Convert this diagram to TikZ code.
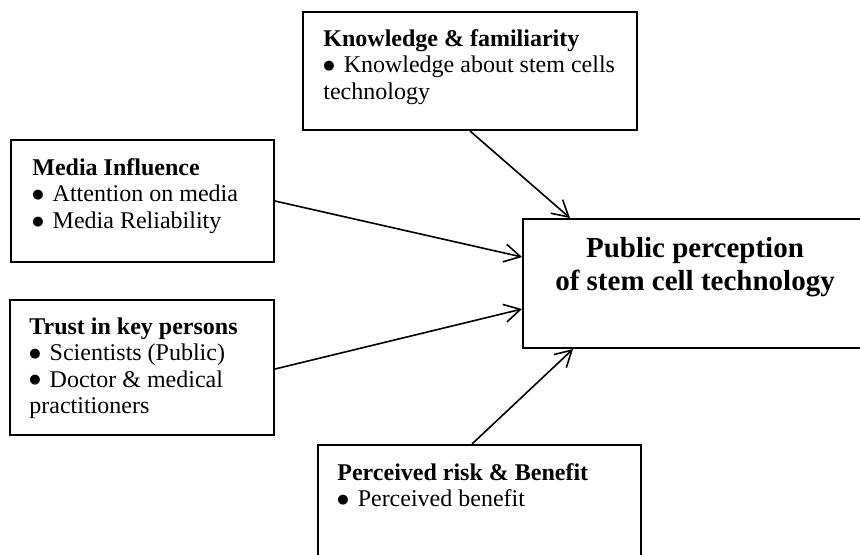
\documentclass[tikz,border=0pt]{standalone}
\usepackage{fontspec}
\setmainfont{Liberation Serif}
\newfontfamily\dotfont{DejaVu Sans}
\usetikzlibrary{arrows.meta,calc}
\newcommand{\blt}{\raisebox{0.3ex}{\dotfont\fontsize{6.5}{6.5}\selectfont ●}\hspace{1.5pt}}

\begin{document}
\begin{tikzpicture}[x=0.5pt,y=-0.5pt,font=\fontsize{12}{13.3}\selectfont,
    >={Straight Barb[length=8pt,width=9pt]},
    blk/.style={draw=black, line width=1pt, anchor=north west, inner sep=0pt},
    lbl/.style={anchor=north west, align=left, inner sep=0pt},
    conn/.style={->, line width=0.8pt}]
  \useasboundingbox (0,0) rectangle (860,554);
  \fill[white] (0,0) rectangle (860,554);
  % ---------- boxes ----------
  \node[blk, minimum width=167pt, minimum height=59pt]   (know)  at (302,11)  {};
  \node[blk, minimum width=131.5pt, minimum height=61pt] (media) at (10,139)  {};
  \node[blk, minimum width=132pt, minimum height=67.5pt] (trust) at (9,299)   {};
  \node[blk, minimum width=185pt, minimum height=64.5pt] (pub)   at (522,218) {};
  \node[blk, minimum width=161.5pt, minimum height=78pt] (risk)  at (317,444) {};
  % ---------- texts ----------
  \node[lbl] (know-t)  at ($(know.north west)+(21,18)$)  {\textbf{Knowledge \& familiarity}\\\blt{} Knowledge about stem cells\\technology};
  \node[lbl] (media-t) at ($(media.north west)+(22,19)$) {\textbf{Media Influence}\\\blt{} Attention on media\\\blt{} Media Reliability};
  \node[lbl] (trust-t) at ($(trust.north west)+(20,18)$) {\textbf{Trust in key persons}\\\blt{} Scientists (Public)\\\blt{} Doctor \& medical\\practitioners};
  \node[lbl] (risk-t)  at ($(risk.north west)+(20,19)$)  {\textbf{Perceived risk \& Benefit}\\\blt{} Perceived benefit};
  \node[font=\fontsize{14.5}{16.5}\selectfont\bfseries, align=center, anchor=north, inner sep=0pt] (pub-t)
     at ($(pub.north west)+(173,19)$) {Public perception\\of stem cell technology};
  % ---------- influences ----------
  \draw[conn] ($(know.south west)+(168,0)$) -- ($(pub.north west)+(48,0)$);
  \draw[conn] ($(media.north east)+(0,62)$) -- ($(pub.north west)+(0,39)$);
  \draw[conn] ($(trust.north east)+(0,70)$) -- ($(pub.north west)+(0,91)$);
  \draw[conn] ($(risk.north west)+(155,0)$) -- ($(pub.south west)+(51,0)$);
\end{tikzpicture}
\end{document}
